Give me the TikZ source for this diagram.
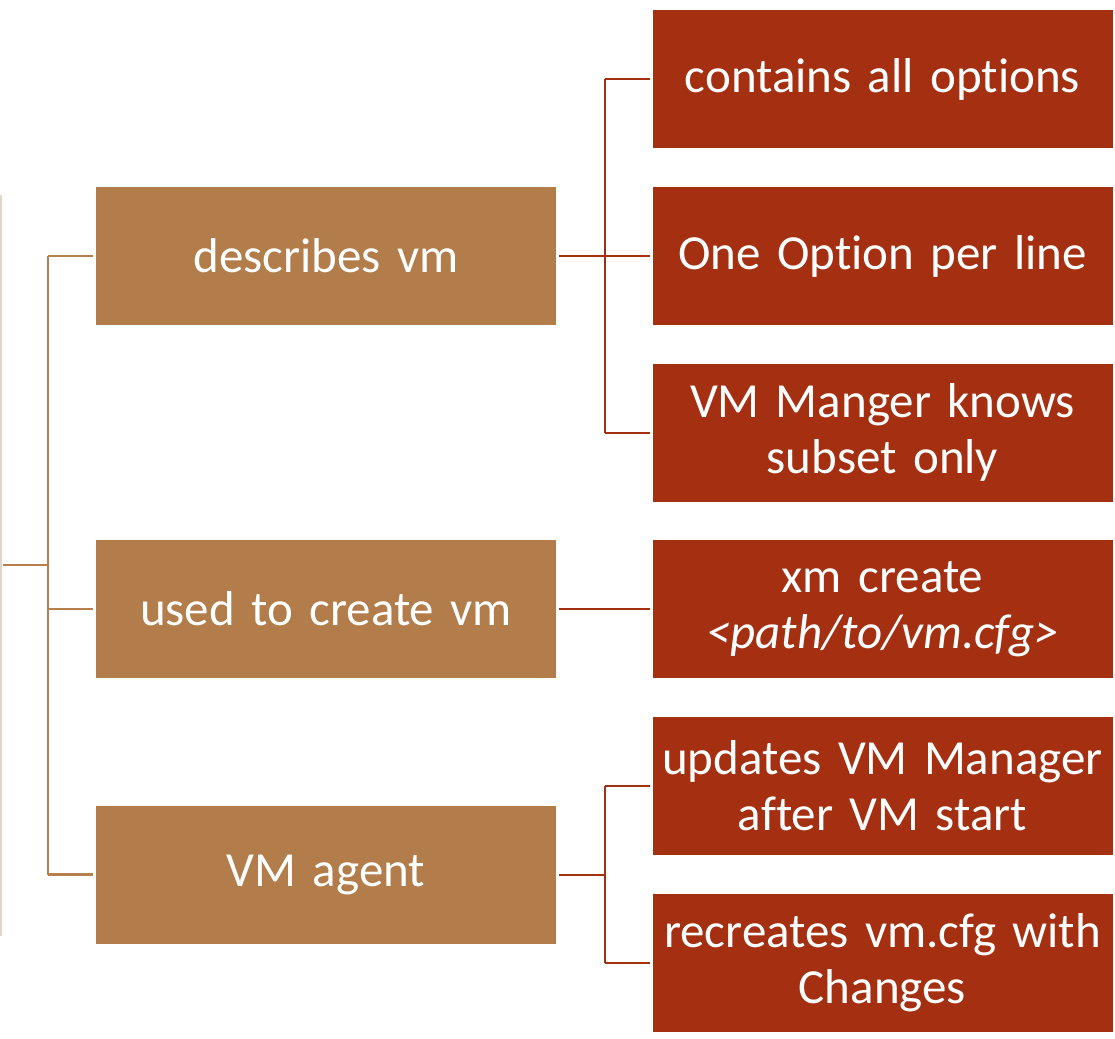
\documentclass[tikz,border=0pt]{standalone}
\usepackage{fontspec}
\setmainfont{Carlito}[Ligatures={NoCommon}]
\definecolor{brownbox}{HTML}{B27D4A}
\definecolor{redbox}{HTML}{A53011}
\definecolor{brownline}{HTML}{B5804E}
\definecolor{redline}{HTML}{A5300F}
\definecolor{paleline}{HTML}{E3D6C6}
\tikzset{
  basebox/.style={rectangle, minimum width=460pt, minimum height=138pt, inner sep=0pt,
    text=white, align=center, text width=450pt, font=\fontsize{49}{56}\selectfont},
  lvlone/.style={basebox, fill=brownbox},
  lvltwo/.style={basebox, fill=redbox},
  bline/.style={draw=brownline, line width=2.2pt},
  rline/.style={draw=redline, line width=2pt},
}
\begin{document}
\begin{tikzpicture}[x=1pt,y=-1pt]
\useasboundingbox (0,0) rectangle (1115,1038);
% level one
\node[lvlone] (b1) at (326,256) {describes vm};
\node[lvlone] (b2) at (326,609) {used to create vm};
\node[lvlone] (b3) at (326,874.5) {VM agent};
% level two
\node[lvltwo] (r1) at (882.5,79) {contains all options};
\node[lvltwo] (r2) at (882.5,256) {One Option per line};
\node[lvltwo] (r3) at (882.5,432.5) {VM Manger knows\\subset only};
\node[lvltwo] (r4) at (882.5,609) {xm create\\\textit{<path/to/vm.cfg>}};
\node[lvltwo] (r5) at (882.5,786) {updates VM Manager\\after VM start};
\node[lvltwo] (r6) at (882.5,962.5) {recreates vm.cfg with\\Changes};
% root edge
\coordinate (lt) at (1,195);
\coordinate (lb) at (1,936);
\draw[draw=paleline, line width=2pt] (lt) -- (lb);
% root connectors
\coordinate (root) at (3,565);
\coordinate (bus) at (48,565);
\draw[bline] (root) -- (bus);
\draw[bline] (bus |- b1.west) -- (bus |- b3.west);
\draw[bline, shorten >=3pt] (bus |- b1.west) -- (b1.west);
\draw[bline, shorten >=3pt] (bus |- b2.west) -- (b2.west);
\draw[bline, shorten >=3pt] (bus |- b3.west) -- (b3.west);
% describes vm connectors
\coordinate (j1) at (605,256);
\draw[rline, shorten <=3pt] (b1.east) -- (j1);
\draw[rline] (j1 |- r1.west) -- (j1 |- r3.west);
\draw[rline, shorten >=2pt] (j1 |- r1.west) -- (r1.west);
\draw[rline, shorten >=2pt] (j1 |- r2.west) -- (r2.west);
\draw[rline, shorten >=2pt] (j1 |- r3.west) -- (r3.west);
% used to create
\draw[rline, shorten <=3pt, shorten >=2pt] (b2.east) -- (r4.west);
% VM agent
\coordinate (j3) at (605,874.5);
\draw[rline, shorten <=3pt] (b3.east) -- (j3);
\draw[rline] (j3 |- r5.west) -- (j3 |- r6.west);
\draw[rline, shorten >=2pt] (j3 |- r5.west) -- (r5.west);
\draw[rline, shorten >=2pt] (j3 |- r6.west) -- (r6.west);
\end{tikzpicture}
\end{document}
